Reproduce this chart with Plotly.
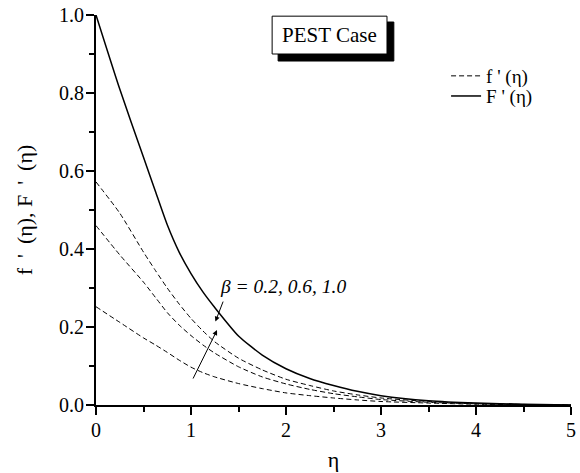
import plotly.graph_objects as go

eta = [0, 0.25, 0.5, 0.625, 0.75, 0.875, 1.0, 1.125, 1.25, 1.5, 1.75, 2.0, 2.25, 2.5, 2.75, 3.0, 3.5, 4.0, 4.5, 5.0]
F_prime = [1.0, 0.81, 0.635, 0.548, 0.462, 0.392, 0.337, 0.29, 0.25, 0.177, 0.128, 0.093, 0.068, 0.05, 0.035, 0.024, 0.011, 0.005, 0.002, 0.0]
f_prime_b10 = [0.572, 0.492, 0.392, 0.345, 0.300, 0.259, 0.222, 0.19, 0.162, 0.120, 0.090, 0.066, 0.050, 0.036, 0.026, 0.018, 0.009, 0.004, 0.0015, 0.0]
f_prime_b06 = [0.460, 0.385, 0.315, 0.276, 0.237, 0.205, 0.178, 0.154, 0.133, 0.098, 0.072, 0.054, 0.040, 0.029, 0.021, 0.014, 0.007, 0.003, 0.001, 0.0]
f_prime_b02 = [0.252, 0.212, 0.172, 0.154, 0.135, 0.115, 0.097, 0.083, 0.072, 0.055, 0.042, 0.031, 0.024, 0.018, 0.013, 0.009, 0.005, 0.002, 0.001, 0.0]

FONT = "'Liberation Serif', 'Times New Roman', Times, serif"
fig = go.Figure()

dashed = dict(color="black", width=1, dash="5px,3px")
for i, ys in enumerate([f_prime_b02, f_prime_b06, f_prime_b10]):
    fig.add_trace(go.Scatter(x=eta, y=ys, mode="lines", line=dict(**dashed, shape="spline", smoothing=0.6),
                             name="f ' (\u03b7)", showlegend=(i == 0), legend="legend"))
fig.add_trace(go.Scatter(x=eta, y=F_prime, mode="lines",
                         line=dict(color="black", width=1.5, shape="spline", smoothing=0.6),
                         name="F ' (\u03b7)", legend="legend2"))

# PEST Case box with shadow
fig.add_shape(type="rect", xref="x", yref="y", x0=1.917, x1=3.135, y0=0.882, y1=0.982,
              fillcolor="black", line=dict(color="black", width=1))
fig.add_shape(type="rect", xref="x", yref="y", x0=1.854, x1=3.063, y0=0.90, y1=0.997,
              fillcolor="white", line=dict(color="black", width=1))
fig.add_annotation(x=2.458, y=0.948, xref="x", yref="y", text="PEST Case", showarrow=False,
                   font=dict(family=FONT, size=21, color="black"))

# beta annotation and arrows
fig.add_annotation(x=1.97, y=0.303, xref="x", yref="y", text="<i>\u03b2 = 0.2, 0.6, 1.0</i>",
                   showarrow=False, font=dict(family=FONT, size=19.5, color="black"))
fig.add_annotation(x=1.257, y=0.214, ax=1.344, ay=0.269, xref="x", yref="y", axref="x", ayref="y",
                   text="", showarrow=True, arrowhead=2, arrowsize=1, arrowwidth=1, arrowcolor="black")
fig.add_annotation(x=1.274, y=0.192, ax=1.014, ay=0.064, xref="x", yref="y", axref="x", ayref="y",
                   text="", showarrow=True, arrowhead=2, arrowsize=1, arrowwidth=1, arrowcolor="black")

axis_common = dict(showline=True, linecolor="black", linewidth=2, ticks="outside", ticklen=8,
                   tickwidth=1.5, tickcolor="black", showgrid=False, zeroline=False,
                   ticklabeloverflow="allow", ticklabelstandoff=-2,
                   tickfont=dict(family=FONT, size=20, color="black"))
fig.update_xaxes(range=[0, 5], dtick=1, tick0=0, **axis_common,
                 minor=dict(dtick=0.5, ticks="outside", ticklen=5, tickwidth=1.5, tickcolor="black"),
                 title=dict(text="\u03b7", font=dict(family=FONT, size=22, color="black"), standoff=12))
fig.update_yaxes(range=[0, 1.0], dtick=0.2, tick0=0, tickformat=".1f", **axis_common,
                 minor=dict(dtick=0.1, ticks="outside", ticklen=5, tickwidth=1.5, tickcolor="black"),
                 title=dict(text="f \u2009'\u2009 (\u03b7), F \u2009'\u2009 (\u03b7)",
                            font=dict(family=FONT, size=22, color="black"), standoff=20))

leg_common = dict(xanchor="left", yanchor="middle", bgcolor="rgba(0,0,0,0)",
                  font=dict(family=FONT, size=19, color="black"), itemwidth=30)
fig.update_layout(width=580, height=473, margin=dict(l=96, r=4, t=15, b=68),
                  plot_bgcolor="white", paper_bgcolor="white",
                  legend=dict(x=0.737, y=0.8436, **leg_common),
                  legend2=dict(x=0.737, y=0.792, **leg_common))
fig.write_html("out.html")
